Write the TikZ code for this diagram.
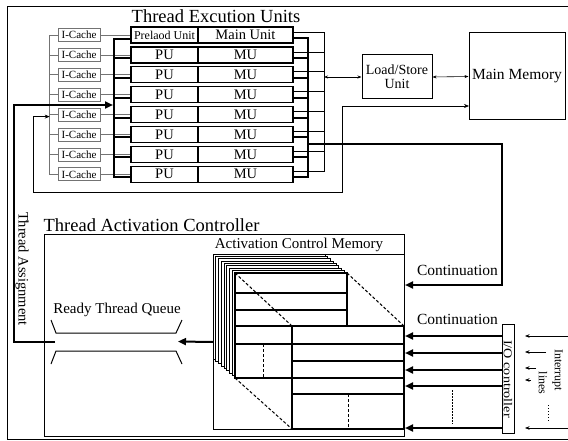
\documentclass[tikz,border=0pt]{standalone}
\usepackage{fontspec}
\setmainfont{Liberation Serif}
\usetikzlibrary{arrows.meta}
\newcommand{\fsz}[1]{\fontsize{#1}{#1}\selectfont}
\begin{document}
\begin{tikzpicture}[x=1pt,y=-1pt,
  wire/.style={line width=0.6pt},
  graywire/.style={draw=black!55,line width=0.6pt},
  bus/.style={line width=2pt},
  bigarrow/.style={bus,-{Triangle[length=8pt,width=7pt]}},
  smallarrow/.style={wire,-{Stealth[length=4.5pt,width=3.5pt]}},
  dbl/.style={wire,{Stealth[length=4pt,width=3pt]}-{Stealth[length=4pt,width=3pt]}},
  cache/.style={draw=black!55,line width=0.6pt,inner sep=0pt,minimum width=42pt,minimum height=13pt,font=\fsz{11}},
  unitbox/.style={draw,line width=1.3pt,inner sep=0pt,minimum height=16pt,font=\fsz{14.5}},
  plainbox/.style={draw,line width=1pt,inner sep=0pt},
  layer/.style={draw,line width=1pt,fill=white},
  table/.style={draw,line width=1.3pt,fill=white},
  proj/.style={line width=1pt,dash pattern=on 3pt off 2pt},
  title/.style={anchor=base,font=\fsz{18.5}},
  label/.style={font=\fsz{15}}]
\useasboundingbox (0,0) rectangle (568,441);

% outer frame
\draw[wire] (568,6) -- (7,6) -- (7,439) -- (568,439);

% ---------------- thread execution units ----------------
\node[title] (teu) at (216,23) {Thread Excution Units};

\node[cache] (ic0) at (79,35) {I-Cache};
\node[unitbox,minimum width=67pt,font=\fsz{12}] (pu0) at (164.5,35) {Prelaod Unit};
\node[unitbox,minimum width=95pt] (mu0) at (245.5,35) {Main Unit};
\foreach \i in {1,...,7} {
  \pgfmathsetmacro\yc{35+19.9*\i}
  \node[cache] (ic\i) at (79,\yc) {I-Cache};
  \node[unitbox,minimum width=67pt] (pu\i) at (164.5,\yc) {PU};
  \node[unitbox,minimum width=95pt] (mu\i) at (245.5,\yc) {MU};
}

% instruction caches: fill bus on the left, link to each preload unit
\draw[graywire] (ic0.west) -- ++(-8,0) |- (ic7.west);
\foreach \i in {1,...,6} \draw[graywire] (ic\i.west) -- ++(-8,0);
\foreach \i in {0,...,7} \draw[graywire] (ic\i.east) -- (pu\i.west);

% thread dispatch bus into the preload units
\draw[bus] ([yshift=-4pt]pu0.west) -- ++(-16,0) |- ([yshift=-3pt]pu7.west);
\foreach \i in {1,...,6} \draw[bus] ([yshift=-3pt]pu\i.west) -- ++(-16,0);

% memory bus and continuation bus on the main units
\draw[wire] ([yshift=3pt]mu0.east) -- ++(31,0) |- ([yshift=3pt]mu7.east);
\foreach \i in {1,...,6} \draw[wire] ([yshift=3pt]mu\i.east) -- ++(31,0);
\draw[bus] ([yshift=-3pt]mu0.east) -- ++(14,0) |- ([yshift=-3pt]mu7.east);
\foreach \i in {1,...,6} \draw[bus] ([yshift=-3pt]mu\i.east) -- ++(14,0);

% load/store and memory
\node[plainbox,minimum width=70pt,minimum height=44pt,align=center,font=\fsz{14}] (ls) at (397,77) {Load/Store\\Unit};
\node[plainbox,minimum width=96pt,minimum height=87pt,font=\fsz{15.5}] (mm) at (517,76.5) {Main Memory};
\coordinate (membus) at (324,77);
\draw[dbl] (membus) -- (ls.west);
\draw[dbl] (ls.east) -- (mm.west);

% instruction fill path from memory to the caches
\coordinate (memfill) at (469,106);
\coordinate (fillturn) at (342,192);
\coordinate (filldown) at (33,192);
\draw[wire,{Stealth[length=5pt,width=4pt]}-{Stealth[length=5pt,width=4pt]}]
  (memfill) -| (fillturn) -- (filldown) |- ([xshift=-8pt,yshift=-2pt]ic4.west);

% ---------------- thread activation controller ----------------
\node[title] (tactitle) at (151.5,232) {Thread Activation Controller};
\node[plainbox,anchor=north west,minimum width=360pt,minimum height=202pt] (tac) at (44,234) {};
\node[plainbox,anchor=north west,minimum width=191pt,minimum height=175pt] (acm) at (213,254) {};
\node[anchor=base,font=\fsz{15}] (acmtitle) at (299,248) {Activation Control Memory};

% stacked memory frames
\foreach \k in {0,...,7}
  \draw[layer] ({213+2.75*\k},{254+2.375*\k}) rectangle ++(112,105);
% front frame
\draw[table] (235,273) rectangle (347,378);
\foreach \y in {293,310,326,344} \draw[line width=1.3pt] (235,\y) -- (347,\y);
\draw[proj] (263,344) -- (263,378);
% enlarged view of the front frame
\draw[table] (292,326) rectangle (404,429);
\foreach \y in {344,361,378,394} \draw[line width=1.3pt] (292,\y) -- (404,\y);
\draw[proj] (348,394) -- (348,429);
\draw[proj] (235,273) -- (292,326);
\draw[proj] (347,273) -- (404,326);
\draw[proj] (235,378) -- (292,429);

% ready thread queue
\node[label] (rtq) at (117,310) {Ready Thread Queue};
\draw[line width=1pt] (51,320) -- (56,333) -- (176,333) -- (182,320);
\draw[line width=1pt] (51,364) -- (56,351) -- (176,351) -- (182,364);
\coordinate (rqL) at (55,341.5);
\coordinate (rqR) at (178,341.5);
\draw[bigarrow] (acm.west) -- (rqR);

% thread assignment back to the execution units
\coordinate (assignturn) at (14,105);
\coordinate (assignin) at (113,105);
\draw[bigarrow] (rqL) -| (assignturn) -- (assignin);
\node[rotate=-90,font=\fsz{14.5}] (ta) at (22,269) {Thread Assignment};

% continuation from the execution units
\coordinate (contbus) at (307,144);
\coordinate (contturn) at (502,285);
\draw[bigarrow] (contbus) -| (contturn) -- (acm.east |- contturn);
\node[label,anchor=base,font=\fsz{15.5}] (cont1) at (457.5,275) {Continuation};
\node[label,anchor=base,font=\fsz{15.5}] (cont2) at (457.5,324) {Continuation};

% I/O controller
\node[plainbox,minimum width=12pt,minimum height=109pt] (io) at (508,379)
  {\rotatebox{-90}{\fsz{12}\scalebox{1.18}[1]{I/O controller}}};
\foreach \y in {336,353,370,386,428}
  \draw[bigarrow] (io.west |- 0,\y) -- (acm.east |- 0,\y);
\draw[wire,dash pattern=on 1.5pt off 1.5pt] (452,390) -- (452,424);

% interrupt lines
\coordinate (irqin) at (525,0);
\foreach \x/\y in {568/336,546/352,536/368,531/380,568/428}
  \draw[smallarrow] (\x,\y) -- (irqin |- 0,\y);
\node[rotate=-90,font=\fsz{12}] (irq) at (557.5,370) {Interrupt};
\node[rotate=-90,font=\fsz{12}] (irqlines) at (543,383) {lines};
\draw[wire,dash pattern=on 1pt off 2pt] (548,405) -- (548,423);
\end{tikzpicture}
\end{document}
